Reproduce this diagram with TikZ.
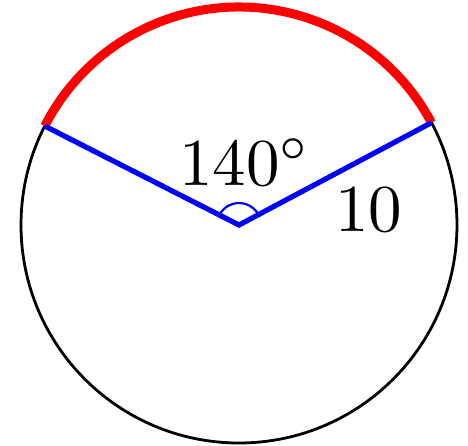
\documentclass[tikz,border=0pt]{standalone}
\begin{document}
\begin{tikzpicture}[x=0.5pt,y=-0.5pt,
  circ/.style={black,line width=1.4pt},
  radius line/.style={blue,line width=2.6pt},
  arcred/.style={red,line width=4.5pt},
  lbl/.style={inner sep=0pt}]
\useasboundingbox (0,0) rectangle (468,446);
\coordinate (O) at (239,225);
\draw[circ] (O) circle[radius=218];
\path (O) ++(-28:218) coordinate (A);
\path (O) ++(-153:218) coordinate (B);
\draw[arcred] (A) arc[start angle=-28,end angle=-153,radius=218];
\draw[radius line] (B) -- (O) -- (A);
\draw[blue,line width=1.1pt] (O) ++(-28:22) arc[start angle=-28,end angle=-153,radius=22];
\node[lbl] (ang) at (245,162) {\scalebox{3.35}{$140^\circ$}};
\node[lbl] (len) at (369,210) {\scalebox{3.35}{$10$}};
\end{tikzpicture}
\end{document}
